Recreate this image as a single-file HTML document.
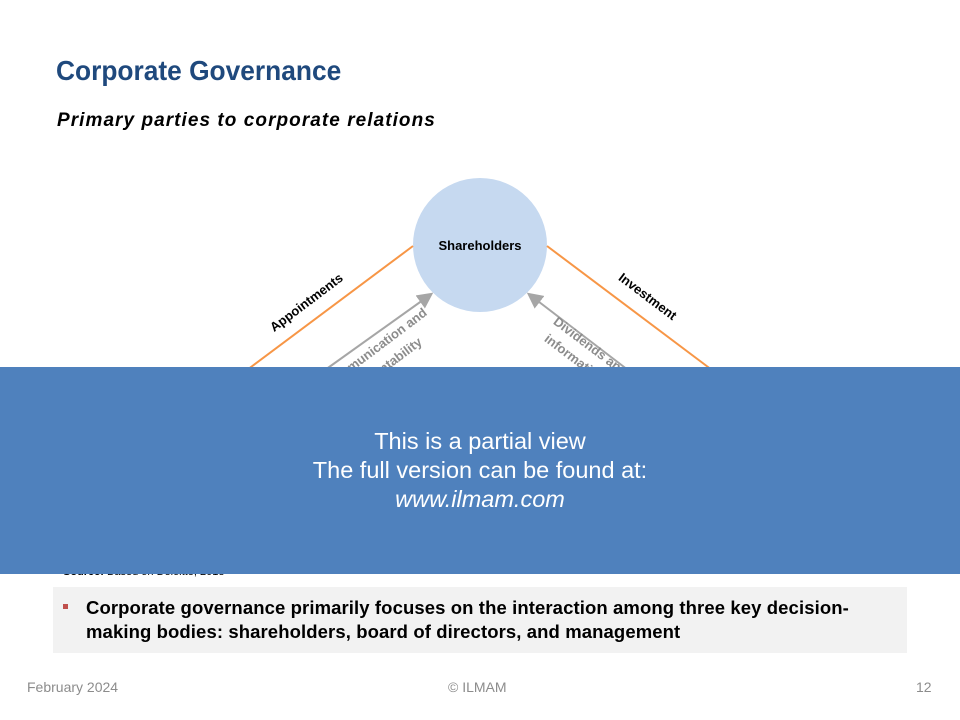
<!DOCTYPE html>
<html><head><meta charset="utf-8"><style>
body{margin:0;width:960px;height:720px;background:#fff;position:relative;overflow:hidden;font-family:"Liberation Sans",sans-serif}
.a{position:absolute;white-space:nowrap}
</style></head><body>
<div class="a" style="left:56px;top:55px;font-size:28px;font-weight:bold;color:#1f497d;transform:scaleX(0.94);transform-origin:0 0">Corporate Governance</div>
<div class="a" style="left:57px;top:110px;font-size:19px;font-weight:bold;font-style:italic;letter-spacing:1.05px">Primary parties to corporate relations</div>
<svg class="a" style="left:0;top:0" width="960" height="720">
<defs><marker id="ar" markerWidth="8" markerHeight="8" refX="6" refY="4" orient="auto"><path d="M0,0 L8,4 L0,8 z" fill="#a6a6a6"/></marker></defs>
<circle cx="480" cy="245" r="67" fill="#c6d9f0"/>
<line x1="413" y1="246" x2="247" y2="370" stroke="#f79646" stroke-width="2"/>
<line x1="547" y1="246" x2="712" y2="370" stroke="#f79646" stroke-width="2"/>
<line x1="325" y1="370" x2="430" y2="295" stroke="#a6a6a6" stroke-width="2" marker-end="url(#ar)"/>
<line x1="628" y1="370" x2="530" y2="295" stroke="#a6a6a6" stroke-width="2" marker-end="url(#ar)"/>
<text x="480" y="250" font-size="13" font-weight="bold" text-anchor="middle" font-family="Liberation Sans">Shareholders</text>
<text transform="translate(309,306) rotate(-37)" font-size="13" font-weight="bold" text-anchor="middle" font-family="Liberation Sans">Appointments</text>
<text transform="translate(645,300) rotate(37)" font-size="13" font-weight="bold" text-anchor="middle" font-family="Liberation Sans">Investment</text>
<text transform="translate(378,352) rotate(-37)" font-size="13" font-weight="bold" fill="#8c8c8c" text-anchor="middle" font-family="Liberation Sans">Communication and</text>
<text transform="translate(388,370) rotate(-37)" font-size="13" font-weight="bold" fill="#8c8c8c" text-anchor="middle" font-family="Liberation Sans">accountability</text>
<text transform="translate(588,350) rotate(37)" font-size="13" font-weight="bold" fill="#8c8c8c" text-anchor="middle" font-family="Liberation Sans">Dividends and</text>
<text transform="translate(572,362) rotate(37)" font-size="13" font-weight="bold" fill="#8c8c8c" text-anchor="middle" font-family="Liberation Sans">information</text>
</svg>
<div class="a" style="left:63px;top:566px;font-size:11px"><b>Source:</b> Based on Deloitte, 2018</div>
<div class="a" style="left:0;top:367px;width:960px;height:207px;background:#4f81bd;color:#fff;text-align:center;font-size:23.5px;line-height:29px">
<div style="margin-top:60px">This is a partial view<br>The full version can be found at:<br><i>www.ilmam.com</i></div></div>
<div class="a" style="left:53px;top:587px;width:854px;height:66px;background:#f2f2f2"></div>
<div class="a" style="left:63px;top:604px;width:5px;height:5px;background:#c0504d"></div>
<div class="a" style="left:86px;top:596px;font-size:18.5px;font-weight:bold;line-height:24px;letter-spacing:0.1px">Corporate governance primarily focuses on the interaction among three key decision-<br>making bodies: shareholders, board of directors, and management</div>
<div class="a" style="left:27px;top:679px;font-size:14px;color:#8c8c8c">February 2024</div>
<div class="a" style="left:448px;top:679px;font-size:14px;color:#8c8c8c">© ILMAM</div>
<div class="a" style="left:916px;top:679px;font-size:14px;color:#8c8c8c">12</div>
</body></html>
